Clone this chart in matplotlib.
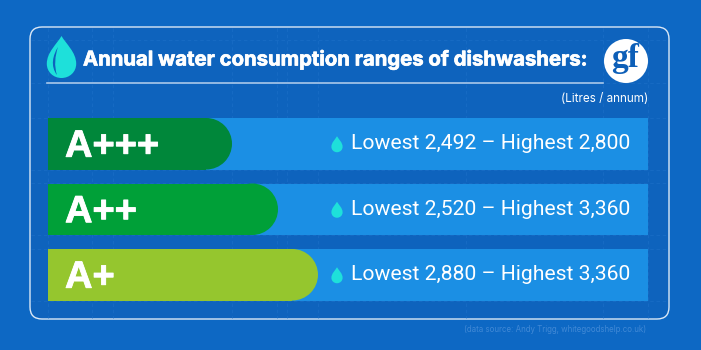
import matplotlib
matplotlib.use('Agg')
import matplotlib.pyplot as plt
import matplotlib.patheffects as pe
from matplotlib.patches import Circle, FancyBboxPatch, PathPatch
from matplotlib.path import Path
from matplotlib.transforms import Affine2D

# values (bar lengths in pixels)
classes = ['A+++', 'A++', 'A+']
lowest = ['2,492', '2,520', '2,880']
highest = ['2,800', '3,360', '3,360']
bar_lengths = [184, 230, 270]
bar_colors = ['#00873a', '#00a038', '#95c62e']
title = 'Annual water consumption ranges of dishwashers:'
unit = '(Litres / annum)'
source = '(data source: Andy Trigg, whitegoodshelp.co.uk)'

bar_tops = [118, 183.5, 249]
bar_height = 51.5
bar_left = 48
track_right = 648

grid_x = [48, 92, 113, 232, 277, 287, 318, 466, 603, 648]
grid_y = [40, 83, 118, 170, 183, 235, 249, 301]

BLUE = '#0d68c4'
INNER = '#0e63bd'
TRACK = '#1b8fe4'
TEAL = '#1ee0da'
GUIDE = '#1a6ec6'


def drop_path():
    # unit drop: tip at (0, -1), bowl bottom at (0, 1)
    verts = [(0, -1), (0.22, -0.62), (0.7, -0.22), (0.7, 0.32),
             (0.7, 0.72), (0.38, 1), (0, 1),
             (-0.38, 1), (-0.7, 0.72), (-0.7, 0.32),
             (-0.7, -0.22), (-0.22, -0.62), (0, -1), (0, -1)]
    codes = [Path.MOVETO] + [Path.CURVE4] * 12 + [Path.CLOSEPOLY]
    return Path(verts, codes)


def draw_drop(ax, x, y, size, zorder=5):
    tr = Affine2D().scale(size).translate(x, y) + ax.transData
    ax.add_patch(PathPatch(drop_path(), facecolor=TEAL, edgecolor='none', transform=tr, zorder=zorder))


def draw_crescent(ax):
    # highlight inside the big header drop
    verts = [(58, 47), (53, 55), (50, 66), (57, 75),
             (54, 66), (55, 56), (58, 47), (58, 47)]
    codes = [Path.MOVETO] + [Path.CURVE4] * 6 + [Path.CLOSEPOLY]
    ax.add_patch(PathPatch(Path(verts, codes), facecolor=INNER, edgecolor='none', zorder=6))


def main():
    fig = plt.figure(figsize=(7.01, 3.5), dpi=100, facecolor=BLUE)
    ax = fig.add_axes([0, 0, 1, 1])
    ax.set_xlim(0, 701)
    ax.set_ylim(350, 0)
    ax.axis('off')

    # card
    ax.add_patch(FancyBboxPatch((30, 27), 639, 292, boxstyle='round,pad=0,rounding_size=12',
                                facecolor=INNER, edgecolor='#dbe8f6', linewidth=1.0, zorder=1))

    # faint guide lines
    for x in grid_x:
        ax.plot([x, x], [28, 318], color=GUIDE, linewidth=0.5, linestyle=(0, (5, 4)), zorder=1.5)
    for y in grid_y:
        ax.plot([31, 668], [y, y], color=GUIDE, linewidth=0.5, linestyle=(0, (5, 4)), zorder=1.5)

    # header
    draw_drop(ax, 61.5, 57, 21)
    draw_crescent(ax)
    ax.text(83, 60, title, color='white', fontsize=14.6, fontweight='bold', family='Inter',
            ha='left', va='center', zorder=5,
            path_effects=[pe.withStroke(linewidth=0.5, foreground='white')])
    ax.plot([47, 603], [83, 83], color='#a9c8ea', linewidth=1.2, zorder=3)

    # logo
    ax.add_patch(Circle((626, 61), 22, facecolor='white', edgecolor='none', zorder=5))
    ax.text(625.5, 59, 'gf', color='#0d5fb8', fontsize=24, fontweight='bold', family='Liberation Serif',
            ha='center', va='center', zorder=6)

    ax.text(648, 99.5, unit, color='white', fontsize=8.4, family='Inter', ha='right', va='center', zorder=5)

    # bars
    r = bar_height / 2
    centers = [t + r for t in bar_tops]
    ax.barh(centers, [track_right - bar_left] * 3, height=bar_height, left=bar_left,
            color=TRACK, edgecolor='none', zorder=2)
    ax.barh(centers, [n - r for n in bar_lengths], height=bar_height, left=bar_left,
            color=bar_colors, edgecolor='none', zorder=3)
    for i, name in enumerate(classes):
        ax.add_patch(Circle((bar_left + bar_lengths[i] - r, centers[i]), r, facecolor=bar_colors[i],
                            edgecolor='none', zorder=3))
        ax.text(65, centers[i] + 13, name, color='white', fontsize=27.4, fontweight='bold',
                family='Liberation Sans', ha='left', va='baseline', zorder=5,
                path_effects=[pe.withStroke(linewidth=0.6, foreground='white')])
        draw_drop(ax, 337, centers[i] + 0.5, 8)
        ax.text(630, centers[i], 'Lowest %s \u2013 Highest %s' % (lowest[i], highest[i]), color='white',
                fontsize=15.2, family='Roboto', ha='right', va='center', zorder=5)

    ax.text(646, 329, source, color='#4189d6', fontsize=5.7, family='Inter', ha='right', va='center', zorder=5)

    fig.savefig('out.png', dpi=100, facecolor=BLUE)


if __name__ == '__main__':
    main()
